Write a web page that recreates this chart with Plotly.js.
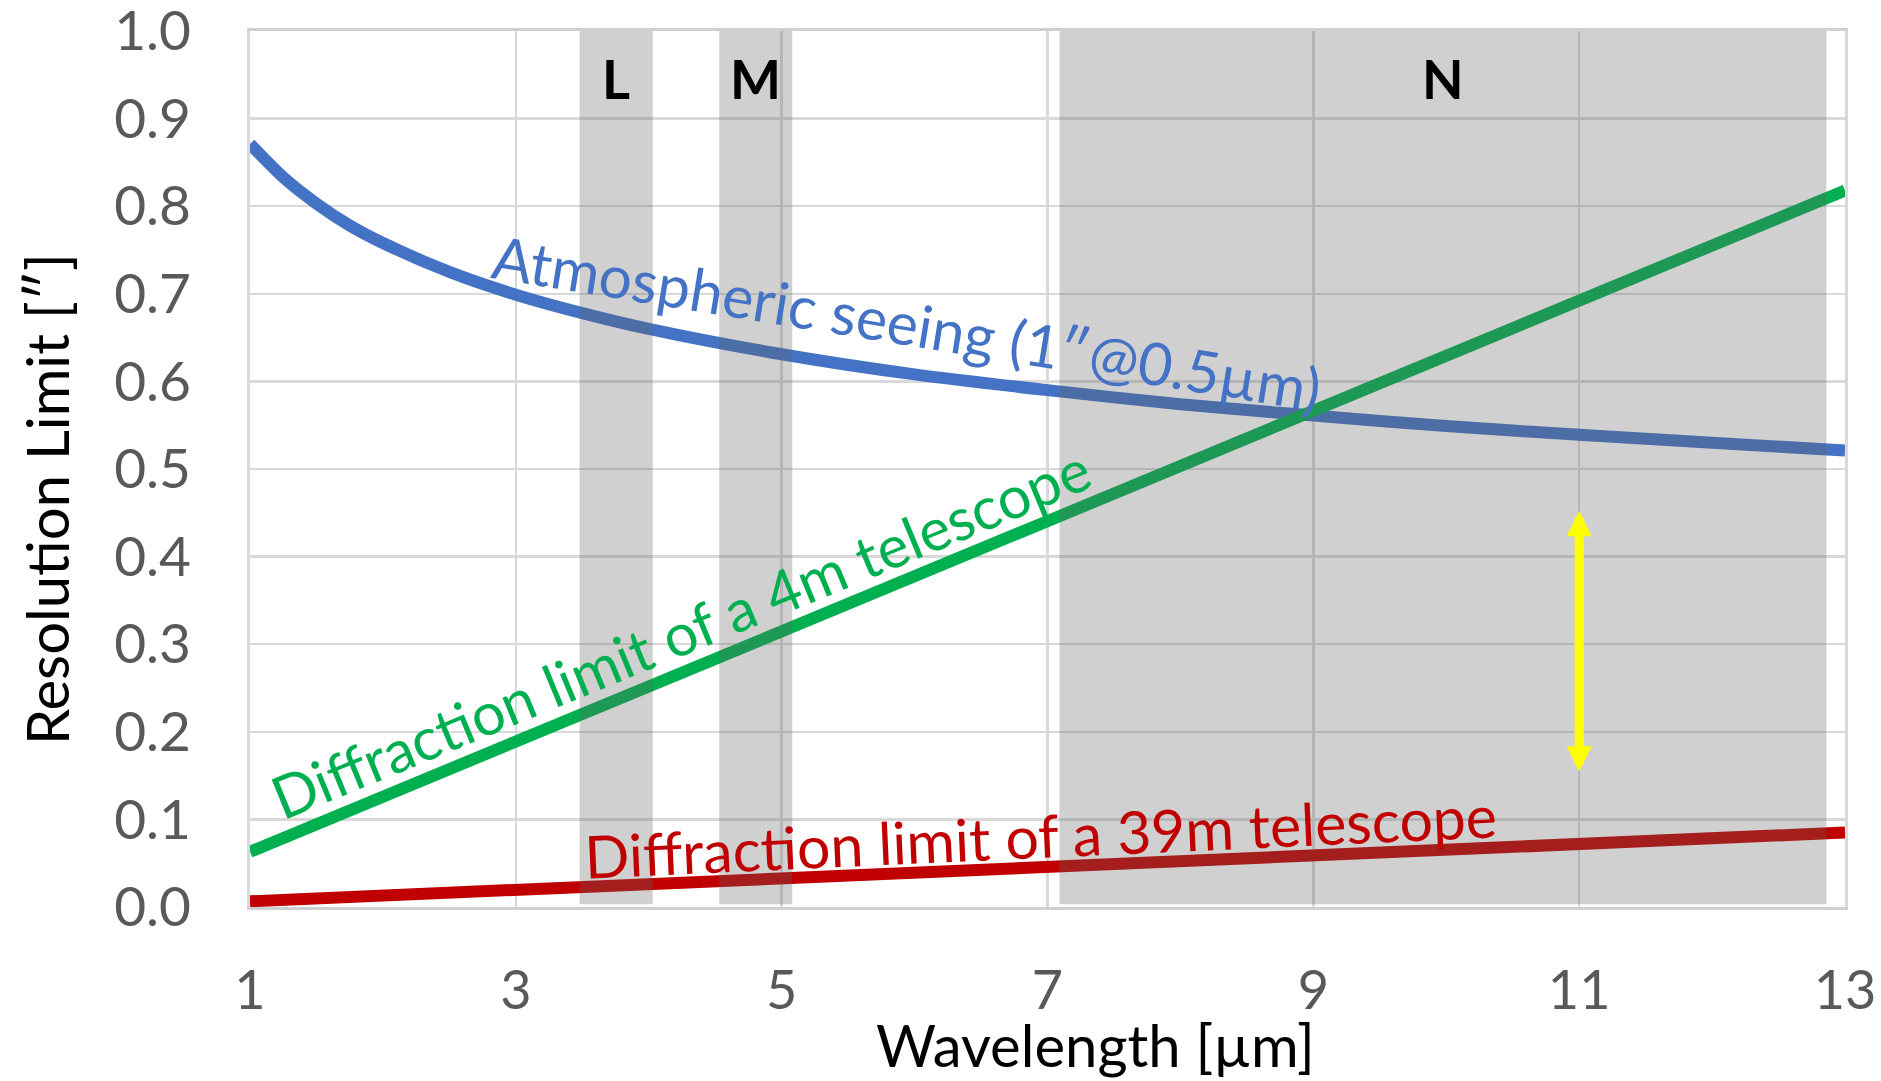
<!DOCTYPE html>
<html>
<head>
<meta charset="utf-8">
<script src="https://cdn.plot.ly/plotly-3.0.1.min.js"></script>
<style>html,body{margin:0;padding:0;background:#fff;}#chart{width:1881px;height:1081px;}</style>
</head>
<body>
<div id="chart"></div>
<script>
// Atmospheric seeing curve
const seeingX = [1, 1.25, 1.5, 1.75, 2, 2.5, 3, 3.5, 4, 5, 6, 7, 8, 9, 10, 11, 12, 13];
const seeingY = [0.871, 0.833, 0.803, 0.778, 0.758, 0.725, 0.699, 0.678, 0.660, 0.631, 0.608, 0.590, 0.574, 0.561, 0.549, 0.539, 0.530, 0.521];
// Diffraction limits (straight lines)
const d4X = [1, 13];
const d4Y = [0.063, 0.818];
const d39X = [1, 13];
const d39Y = [0.0065, 0.085];
// Atmospheric bands
const bandNames = ['L', 'M', 'N'];
const bandStart = [3.48, 4.53, 7.09];
const bandEnd = [4.03, 5.08, 12.86];
// Axis ticks
const xTicks = [1, 3, 5, 7, 9, 11, 13];
const yTicks = [0, 0.1, 0.2, 0.3, 0.4, 0.5, 0.6, 0.7, 0.8, 0.9, 1.0];
// Yellow gap arrow
const gapX = 11;
const gapY = [0.153, 0.452];

const FONT = 'Lato, "Open Sans", sans-serif';
const traces = [
  {x: seeingX, y: seeingY, mode: 'lines', line: {color: '#4472C4', width: 12, shape: 'spline', smoothing: 0.8}, hoverinfo: 'skip'},
  {x: d4X, y: d4Y, mode: 'lines', line: {color: '#00B050', width: 12}, hoverinfo: 'skip'},
  {x: d39X, y: d39Y, mode: 'lines', line: {color: '#C00000', width: 12}, hoverinfo: 'skip'}
];

const shapes = bandNames.map((n, i) => ({
  type: 'rect', xref: 'x', yref: 'y', x0: bandStart[i], x1: bandEnd[i], y0: 0.003, y1: 1.003,
  fillcolor: 'rgba(100,100,100,0.3)', line: {width: 0}, layer: 'above'
}));

const annotations = bandNames.map((n, i) => ({
  x: (bandStart[i] + bandEnd[i]) / 2, y: 0.946, xref: 'x', yref: 'y', showarrow: false,
  text: '<b>' + n + '</b>', font: {family: FONT, size: 54, color: '#000'}
}));
annotations.push(
  {x: 5.94, y: 0.667, xref: 'x', yref: 'y', showarrow: false, textangle: 9.2,
   text: 'Atmospheric seeing (1″@0.5µm)', font: {family: FONT, size: 59, color: '#4472C4'}},
  {x: 4.24, y: 0.313, xref: 'x', yref: 'y', showarrow: false, textangle: -22.4,
   text: 'Diffraction limit of a 4m telescope', font: {family: FONT, size: 59, color: '#00B050'}},
  {x: 6.95, y: 0.082, xref: 'x', yref: 'y', showarrow: false, textangle: -2.6,
   text: 'Diffraction limit of a 39m telescope', font: {family: FONT, size: 59, color: '#C00000'}},
  {x: gapX, y: gapY[1], ax: gapX, ay: gapY[0], xref: 'x', yref: 'y', axref: 'x', ayref: 'y',
   text: '', showarrow: true, arrowhead: 2, startarrowhead: 2, arrowside: 'end+start',
   arrowsize: 0.56, startarrowsize: 0.56, arrowwidth: 9, arrowcolor: '#FFFF00'},
  {x: 0.5, y: 0.0, xref: 'paper', yref: 'paper', xanchor: 'center', yanchor: 'middle',
   xshift: 48, yshift: -137, showarrow: false,
   text: 'Wavelength [µm]', font: {family: FONT, size: 58, color: '#000'}},
  {x: 0, y: 0.5, xref: 'paper', yref: 'paper', xanchor: 'center', yanchor: 'middle',
   xshift: -204, yshift: -30, showarrow: false, textangle: -90,
   text: 'Resolution Limit [″]', font: {family: FONT, size: 58, color: '#000'}}
);

const layout = {
  width: 1881, height: 1081,
  margin: {l: 250, r: 36, t: 31, b: 174},
  paper_bgcolor: '#fff', plot_bgcolor: '#fff',
  showlegend: false,
  xaxis: {
    range: [1, 13], tickvals: xTicks, ticktext: xTicks.map(String),
    showgrid: true, gridcolor: '#d9d9d9', gridwidth: 2.5, zeroline: false,
    showline: true, mirror: true, linecolor: '#d0d0d0', linewidth: 3,
    ticks: 'outside', ticklen: 34, tickcolor: 'rgba(0,0,0,0)',
    ticklabeloverflow: 'allow',
    tickfont: {family: FONT, size: 54, color: '#595959'}
  },
  yaxis: {
    range: [0, 1], tickvals: yTicks, ticktext: yTicks.map(v => v.toFixed(1)),
    showgrid: true, gridcolor: '#d9d9d9', gridwidth: 2.5, zeroline: false,
    showline: true, mirror: true, linecolor: '#d9d9d9', linewidth: 3,
    ticks: 'outside', ticklen: 45, tickcolor: 'rgba(0,0,0,0)',
    ticklabeloverflow: 'allow',
    tickfont: {family: FONT, size: 55, color: '#595959'}
  },
  shapes: shapes,
  annotations: annotations
};

Plotly.newPlot('chart', traces, layout, {staticPlot: true, displayModeBar: false});
</script>
</body>
</html>
